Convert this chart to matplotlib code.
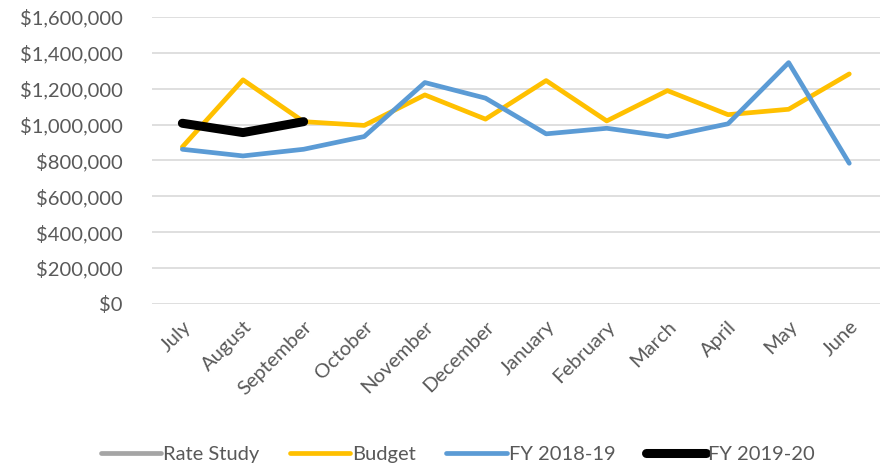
import matplotlib
matplotlib.use("Agg")
import matplotlib.pyplot as plt
from matplotlib.ticker import FuncFormatter
import numpy as np

months = ['July', 'August', 'September', 'October', 'November', 'December',
          'January', 'February', 'March', 'April', 'May', 'June']
rate_study = [np.nan] * 12
budget = [875000, 1249000, 1016000, 995000, 1165000, 1030000,
          1245000, 1020000, 1189000, 1055000, 1085000, 1282000]
fy_2018_19 = [862000, 825000, 862000, 933000, 1234000, 1147000,
              948000, 979000, 933000, 1004000, 1345000, 784000]
fy_2019_20 = [1007000, 955000, 1016000]

plt.rcParams['font.family'] = ['Lato', 'DejaVu Sans']
txt = '#595959'

fig = plt.figure(figsize=(8.84, 4.69), dpi=100)
ax = fig.add_axes([0.172, 0.352, 0.823, 0.612])

x = np.arange(len(months))
ax.plot(x, rate_study, color='#A5A5A5', lw=3.4, solid_capstyle='round', label='Rate Study')
ax.plot(x, budget, color='#FFC000', lw=3.4, solid_capstyle='round', label='Budget')
ax.plot(x, fy_2018_19, color='#5B9BD5', lw=3.4, solid_capstyle='round', label='FY 2018-19')
ax.plot(x[:len(fy_2019_20)], fy_2019_20, color='black', lw=6.5,
        solid_capstyle='round', label='FY 2019-20')

ax.set_xlim(-0.5, 11.5)
ax.set_ylim(0, 1600000)
ax.set_yticks(np.arange(0, 1600001, 200000))
ax.yaxis.set_major_formatter(FuncFormatter(lambda v, p: f'${v:,.0f}'))
ax.grid(axis='y', color='#D9D9D9', lw=1.2)
ax.set_axisbelow(True)
for s in ax.spines.values():
    s.set_visible(False)
ax.tick_params(length=0, labelsize=14.5, colors=txt)
ax.tick_params(axis='y', pad=21)
ax.tick_params(axis='x', pad=10)
ax.set_xticks(x)
ax.set_xticklabels(months, rotation=45, ha='right', rotation_mode='anchor')

leg = fig.legend(loc='center', bbox_to_anchor=(0.518, 0.03), ncol=4,
                 frameon=False, fontsize=14.5, handlelength=3.0, handletextpad=0.1,
                 columnspacing=1.5)
for t in leg.get_texts():
    t.set_color(txt)

fig.savefig('out.png', dpi=100)
